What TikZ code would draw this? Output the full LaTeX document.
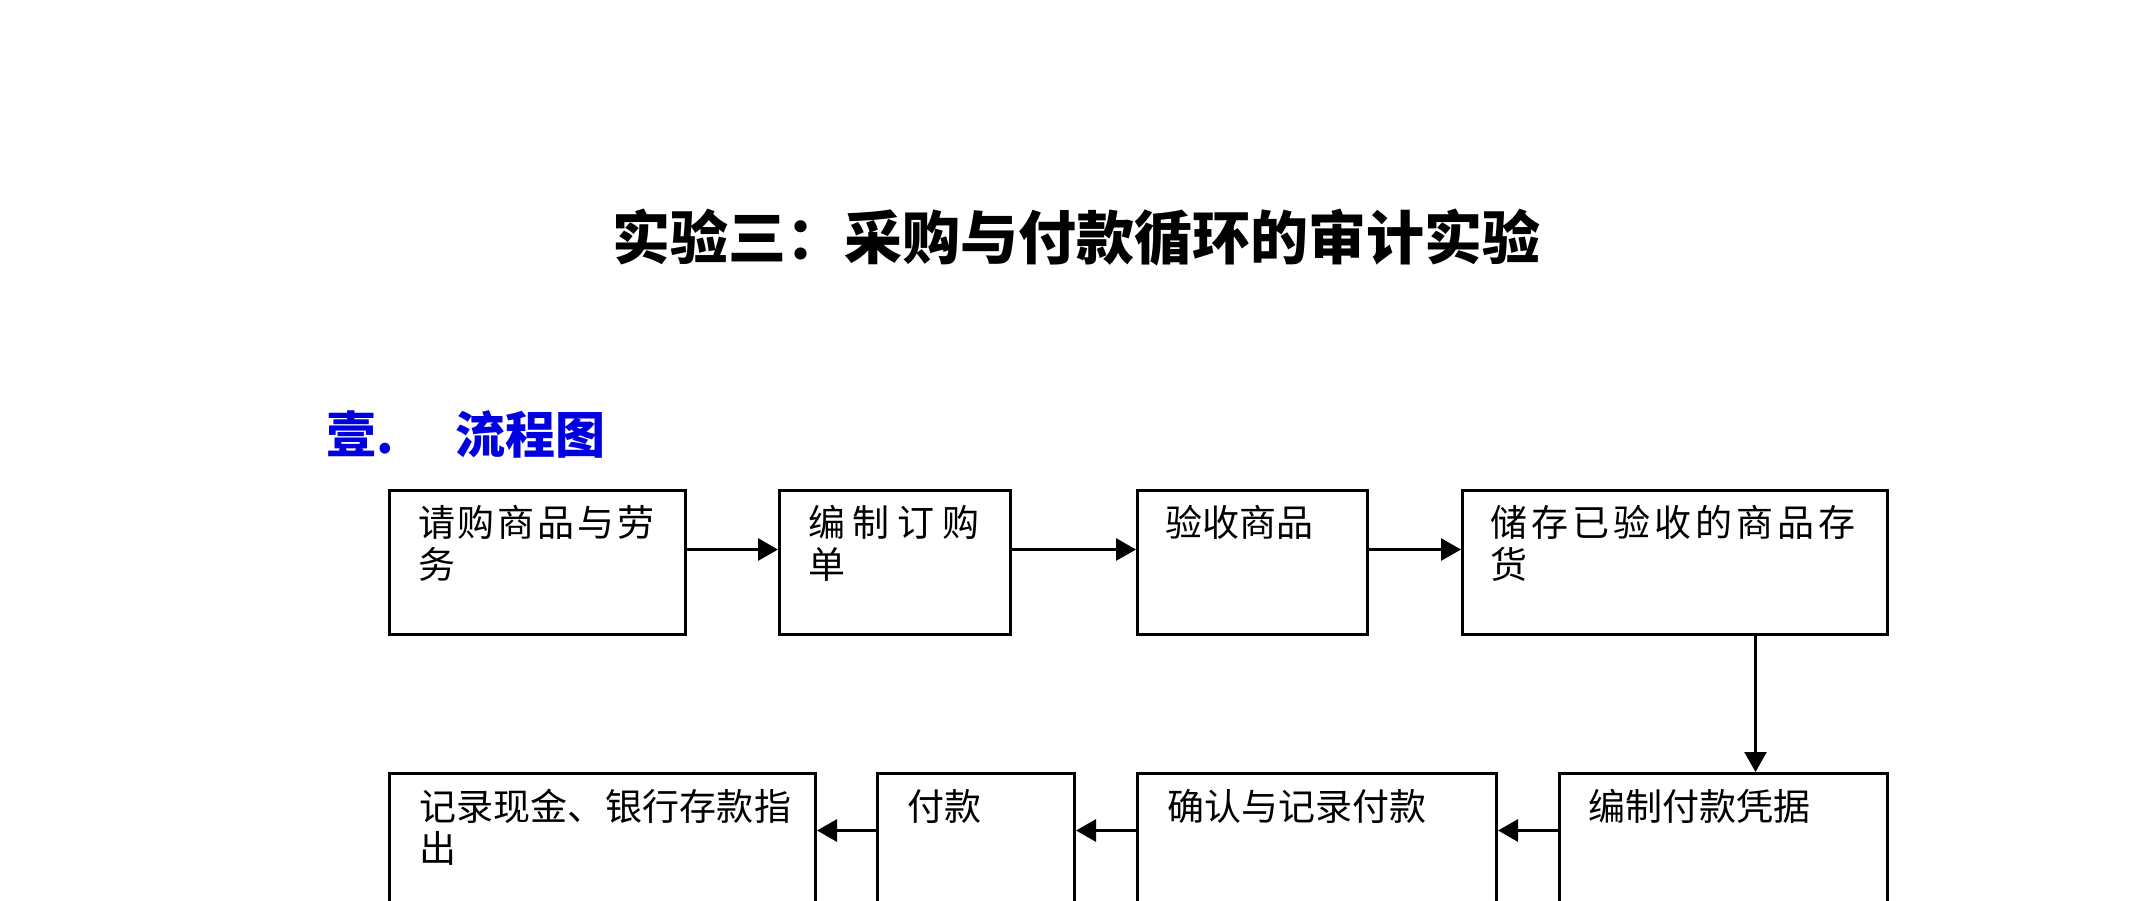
\documentclass[tikz,border=0pt]{standalone}
\usepackage{fontspec}
\setmainfont{Noto Sans CJK SC}
\usetikzlibrary{arrows.meta,positioning}
\XeTeXlinebreaklocale "zh"
\XeTeXlinebreakskip=0pt plus 12pt minus 1pt
\setlength{\parindent}{0pt}
\definecolor{bleutitre}{RGB}{0,0,224}

\begin{document}
\begin{tikzpicture}[x=1pt,y=-1pt]
    \tikzstyle{etape}=[draw,line width=3pt,anchor=north west,minimum height=144pt,inner sep=0pt]
    \tikzstyle{texte}=[inner sep=0pt,align=justify,font=\fontsize{37pt}{42pt}\selectfont]
    \tikzstyle{fleche}=[-{Triangle[length=20pt,width=22pt]},line width=3pt]
  \useasboundingbox (0,0) rectangle (2149,900);
  \clip (0,0) rectangle (2149,900);
  \node[font=\bfseries\fontsize{58pt}{60pt}\selectfont] (titre) at (1076,238) {实验三：采购与付款循环的审计实验};
  \node[anchor=west,inner sep=0pt,text=bleutitre,font=\bfseries\fontsize{50pt}{52pt}\selectfont] (rubrique) at (326,434) {壹.\hspace{62pt}流程图};
  % premiere ligne
  \node[etape,minimum width=296pt] (b1) at (388,489) {};
  \node[etape,minimum width=231pt] (b2) at (778,489) {};
  \node[etape,minimum width=230pt] (b3) at (1136,489) {};
  \node[etape,minimum width=425pt] (b4) at (1461,489) {};
  \node[texte,text width=236pt,below right=16pt and 30pt of b1.north west] (t1) {请购商品与劳务};
  \node[texte,text width=171pt,below right=16pt and 30pt of b2.north west] (t2) {编制订购单};
  \node[texte,text width=170pt,below right=16pt and 29pt of b3.north west] (t3) {验收商品};
  \node[texte,text width=365pt,below right=16pt and 29pt of b4.north west] (t4) {储存已验收的商品存货};
  % deuxieme ligne
  \node[etape,minimum width=426pt] (c1) at (388,772) {};
  \node[etape,minimum width=197pt] (c2) at (876,772) {};
  \node[etape,minimum width=359pt] (c3) at (1136,772) {};
  \node[etape,minimum width=328pt] (c4) at (1558,772) {};
  \node[texte,text width=372pt,below right=17pt and 31pt of c1.north west] (t5) {记录现金、银行存款指出};
  \node[texte,text width=137pt,below right=17pt and 31pt of c2.north west] (t6) {付款};
  \node[texte,text width=299pt,below right=17pt and 31pt of c3.north west] (t7) {确认与记录付款};
  \node[texte,text width=268pt,below right=17pt and 30pt of c4.north west] (t8) {编制付款凭据};
  % fleches
  \draw[fleche] ([yshift=13pt]b1.east) -- ([yshift=13pt]b2.west);
  \draw[fleche] ([yshift=13pt]b2.east) -- ([yshift=13pt]b3.west);
  \draw[fleche] ([yshift=13pt]b3.east) -- ([yshift=13pt]b4.west);
  \draw[fleche,line width=2.5pt] ([xshift=80.5pt]b4.south) -- ([xshift=80.5pt]b4.south |- c4.north);
  \draw[fleche] ([yshift=15pt]c4.west) -- ([yshift=15pt]c3.east);
  \draw[fleche] ([yshift=15pt]c3.west) -- ([yshift=15pt]c2.east);
  \draw[fleche] ([yshift=15pt]c2.west) -- ([yshift=15pt]c1.east);
\end{tikzpicture}
\end{document}
